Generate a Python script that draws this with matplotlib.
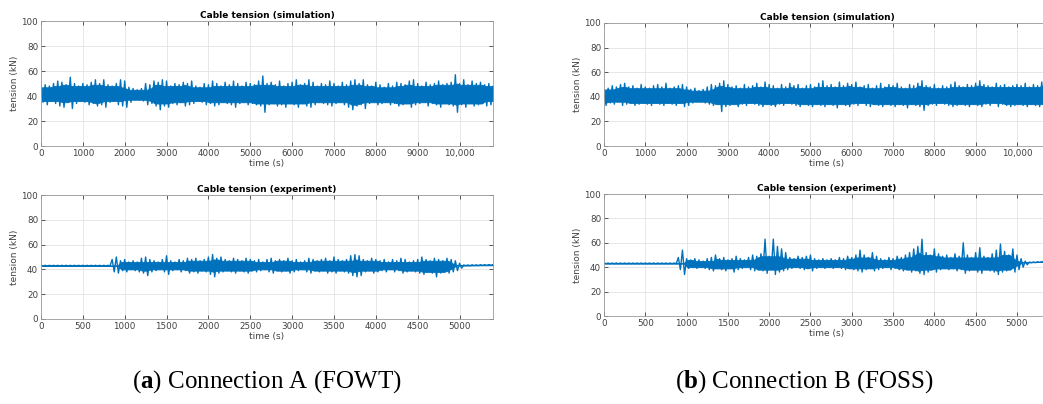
import numpy as np
import matplotlib
matplotlib.use("Agg")
import matplotlib.pyplot as plt
from matplotlib.ticker import FuncFormatter

plt.rcParams["mathtext.fontset"] = "custom"
plt.rcParams["mathtext.rm"] = "Liberation Serif"
plt.rcParams["mathtext.bf"] = "Liberation Serif:bold"

# simulation: envelope values every 100 s, 0 .. 10800 s
sim_step = 100
a_sim_upper = [47, 49, 48, 50, 52, 51, 49, 55, 50, 48,
               50, 49, 51, 53, 50, 53, 49, 48, 50, 53,
               52, 47, 46, 45, 46, 50, 49, 52, 51, 53,
               52, 48, 50, 49, 51, 50, 52, 48, 47, 50,
               49, 52, 50, 48, 51, 49, 52, 50, 48, 51,
               50, 49, 52, 56, 50, 51, 49, 52, 48, 50,
               51, 53, 49, 50, 53, 51, 48, 50, 49, 52,
               50, 48, 51, 49, 52, 53, 50, 53, 49, 48,
               51, 49, 47, 50, 48, 51, 50, 49, 52, 53,
               50, 48, 51, 49, 50, 52, 49, 50, 51, 57,
               50, 53, 49, 52, 50, 51, 49, 50, 48]
a_sim_lower = [35, 33, 36, 34, 32, 31, 35, 30, 34, 36,
               35, 33, 34, 32, 33, 31, 35, 36, 33, 32,
               31, 35, 37, 37, 36, 33, 34, 32, 29, 32,
               31, 34, 33, 35, 32, 33, 34, 36, 35, 33,
               34, 32, 33, 35, 34, 33, 31, 34, 35, 33,
               34, 33, 32, 27, 33, 34, 32, 33, 31, 34,
               33, 31, 34, 32, 31, 33, 35, 34, 33, 32,
               34, 35, 33, 31, 29, 32, 33, 30, 34, 35,
               33, 34, 35, 33, 34, 32, 33, 34, 31, 33,
               34, 35, 32, 34, 33, 31, 34, 33, 32, 27,
               33, 31, 34, 32, 33, 34, 32, 33, 36]
b_sim_upper = [46, 47, 49, 48, 50, 51, 48, 49, 47, 50,
               48, 47, 49, 50, 48, 51, 47, 48, 49, 50,
               48, 46, 47, 45, 46, 48, 50, 49, 51, 53,
               50, 48, 49, 47, 50, 48, 49, 51, 48, 52,
               50, 49, 47, 50, 48, 51, 49, 50, 47, 49,
               50, 48, 51, 53, 49, 50, 48, 52, 49, 51,
               50, 52, 48, 49, 50, 47, 49, 51, 48, 50,
               49, 51, 48, 47, 50, 49, 51, 53, 49, 48,
               50, 47, 49, 48, 50, 52, 49, 48, 50, 49,
               51, 53, 50, 49, 48, 51, 49, 50, 48, 49,
               50, 49, 51, 48, 50, 49, 52, 54, 50]
b_sim_lower = [33, 35, 34, 36, 33, 34, 35, 33, 34, 35,
               34, 33, 35, 34, 33, 35, 34, 33, 35, 32,
               33, 35, 36, 36, 35, 34, 33, 34, 28, 32,
               33, 34, 32, 34, 33, 35, 34, 33, 32, 34,
               33, 32, 34, 33, 35, 34, 33, 32, 34, 33,
               32, 34, 33, 32, 34, 33, 31, 34, 33, 32,
               34, 33, 35, 33, 32, 34, 33, 32, 34, 33,
               32, 34, 33, 31, 34, 33, 32, 29, 33, 34,
               33, 35, 34, 33, 32, 33, 34, 33, 32, 34,
               33, 32, 34, 33, 35, 32, 34, 33, 32, 33,
               34, 33, 32, 34, 33, 32, 34, 33, 32]

# experiment: envelope values every 50 s, 0 .. 5400 s
exp_step = 50
a_exp_upper = ([43.3] * 17 +
               [48, 50, 47, 48, 46, 47, 46, 49, 50, 48,
                47, 46, 48, 51, 47, 46, 48, 47, 49, 48,
                49, 47, 48, 50, 52, 49, 50, 48, 47, 49,
                48, 47, 49, 48, 47, 48, 46, 48, 49, 47,
                48, 47, 49, 47, 48, 46, 47, 49, 48, 47,
                48, 49, 47, 50, 48, 47, 48, 51, 52, 51,
                48, 47, 49, 48, 47, 48, 46, 48, 47, 49,
                48, 46, 47, 48, 50, 48, 47, 49, 48, 47,
                49, 48, 47, 45] +
               [43.6, 43.6, 43.7, 43.7, 43.8, 43.8, 43.9, 43.9])
a_exp_lower = ([42.8] * 17 +
               [38, 37, 39, 38, 40, 39, 38, 37, 35, 38,
                39, 40, 38, 36, 39, 40, 38, 39, 37, 38,
                37, 39, 38, 36, 34, 37, 38, 39, 38, 37,
                39, 38, 37, 39, 38, 39, 40, 38, 37, 39,
                38, 39, 37, 38, 39, 40, 38, 37, 39, 38,
                39, 37, 38, 37, 39, 38, 37, 35, 34, 35,
                38, 39, 37, 38, 39, 38, 40, 38, 39, 37,
                38, 39, 38, 37, 36, 38, 37, 34, 37, 38,
                37, 38, 39, 41] +
               [43.0, 43.0, 43.1, 43.1, 43.2, 43.2, 43.3, 43.3])
b_exp_upper = ([43.4] * 18 +
               [48, 54, 47, 46, 47, 46, 45, 47, 48, 50,
                47, 48, 46, 47, 49, 47, 46, 48, 50, 49,
                51, 63, 49, 63, 57, 55, 52, 48, 47, 49,
                48, 49, 50, 47, 46, 47, 46, 47, 46, 48,
                47, 49, 48, 50, 54, 50, 48, 52, 49, 47,
                46, 48, 47, 49, 48, 50, 52, 55, 57, 63,
                52, 50, 55, 51, 49, 50, 48, 51, 49, 60,
                50, 48, 52, 56, 49, 48, 51, 54, 59, 53,
                50, 55, 50, 47, 45] +
               [44.2, 44.3, 44.5, 44.6, 44.7, 44.9])
b_exp_lower = ([42.9] * 18 +
               [38, 34, 39, 40, 39, 40, 39, 38, 37, 39,
                38, 37, 39, 36, 38, 39, 40, 38, 37, 38,
                37, 35, 38, 34, 36, 37, 38, 39, 40, 39,
                38, 39, 37, 39, 40, 39, 40, 39, 40, 39,
                38, 39, 38, 37, 36, 38, 39, 37, 38, 39,
                40, 38, 39, 38, 37, 38, 36, 37, 35, 34,
                36, 38, 36, 38, 39, 38, 39, 37, 38, 35,
                37, 38, 36, 35, 38, 37, 36, 34, 36, 37,
                38, 36, 38, 40, 42] +
               [43.7, 43.8, 44.0, 44.1, 44.2, 44.4])

captions = [("a", "Connection A (FOWT)"), ("b", "Connection B (FOSS)")]

line_color = "#0072BD"
text_color = "#404040"


def zigzag(upper, lower, step):
    t = np.arange(len(upper)) * step
    tt = np.empty(2 * len(upper))
    yy = np.empty(2 * len(upper))
    tt[0::2] = t
    tt[1::2] = t + step / 2
    yy[0::2] = upper
    yy[1::2] = lower
    return tt, yy


def core_band(upper, lower, w=2):
    # dense part of the signal: lowest nearby peak / highest nearby trough
    upp = np.pad(np.asarray(upper, float), w, mode="edge")
    lop = np.pad(np.asarray(lower, float), w, mode="edge")
    n = len(upper)
    top = np.min([upp[k:k + n] for k in range(2 * w + 1)], axis=0)
    bot = np.max([lop[k:k + n] for k in range(2 * w + 1)], axis=0)
    return top, bot


def fmt_time(v, p):
    v = int(v)
    return f"{v:,}" if v >= 10000 else str(v)


def style_axes(ax, title, xmax, xticks):
    ax.set_xlim(0, xmax)
    ax.set_ylim(0, 100)
    ax.set_yticks(range(0, 101, 20))
    ax.set_xticks(xticks)
    ax.xaxis.set_major_formatter(FuncFormatter(fmt_time))
    ax.grid(True, color="#e3e3e3", linewidth=0.6)
    ax.set_axisbelow(True)
    ax.tick_params(direction="in", length=3, width=0.6, labelsize=6.3,
                   colors=text_color, top=True, right=True, pad=2)
    for s in ax.spines.values():
        s.set_color("#9a9a9a")
        s.set_linewidth(0.6)
    ax.set_title(title, fontsize=6.5, fontweight="bold", color="black", pad=2.5)
    ax.set_xlabel("time (s)", fontsize=6.5, color=text_color, labelpad=1)
    ax.set_ylabel("tension (kN)", fontsize=6.5, color=text_color, labelpad=2)


fig = plt.figure(figsize=(10.43, 4.04), dpi=100)

positions = {
    "a_sim": [0.0393, 0.6386, 0.4334, 0.3094],
    "a_exp": [0.0393, 0.2104, 0.4334, 0.3069],
    "b_sim": [0.5791, 0.6386, 0.4276, 0.3045],
    "b_exp": [0.5791, 0.2178, 0.4276, 0.3020],
}

panels = [
    ("a_sim", a_sim_upper, a_sim_lower, sim_step, "Cable tension (simulation)", 10800, range(0, 10001, 1000)),
    ("a_exp", a_exp_upper, a_exp_lower, exp_step, "Cable tension (experiment)", 5400, range(0, 5001, 500)),
    ("b_sim", b_sim_upper, b_sim_lower, sim_step, "Cable tension (simulation)", 10800, range(0, 10001, 1000)),
    ("b_exp", b_exp_upper, b_exp_lower, exp_step, "Cable tension (experiment)", 5400, range(0, 5001, 500)),
]

for key, up, lo, step, title, xmax, xt in panels:
    ax = fig.add_axes(positions[key])
    t = np.arange(len(up)) * step
    top, bot = core_band(up, lo)
    ax.fill_between(t + step / 4, bot, top, color=line_color, linewidth=0.6,
                    edgecolor=line_color)
    tt, yy = zigzag(up, lo, step)
    ax.plot(tt, yy, color=line_color, linewidth=1.0)
    style_axes(ax, title, xmax, xt)

for (letter, text), xc in zip(captions, [0.256, 0.771]):
    fig.text(xc, 0.055, rf"($\mathbf{{{letter}}}$) {text}", ha="center", va="center",
             fontsize=18, family="Liberation Serif", color="black")

fig.savefig("out.png", dpi=100)
